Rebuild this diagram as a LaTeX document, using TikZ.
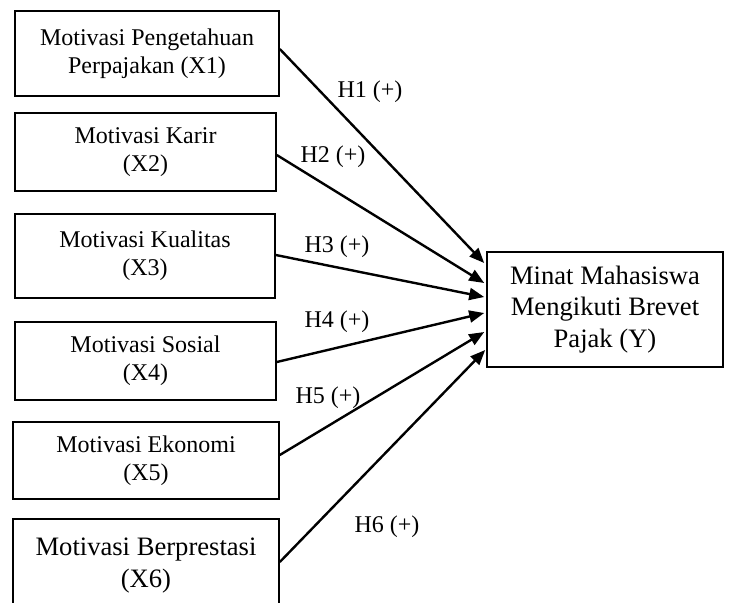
\documentclass[tikz,border=0pt]{standalone}
\usepackage{fontspec}
\setmainfont{Liberation Serif}
\usetikzlibrary{arrows.meta}
\begin{document}
\begin{tikzpicture}[x=0.5pt,y=-0.5pt,
  box/.style={draw,line width=0.8pt,align=center,inner sep=0pt,font=\fontsize{12}{14}\selectfont},
  bigtext/.style={font=\fontsize{13.3}{15.6}\selectfont},
  arr/.style={line width=1.2pt,-{Triangle[length=7.5pt,width=6pt]}},
  lab/.style={font=\fontsize{12}{14}\selectfont,inner sep=0pt}]
\useasboundingbox (0,0) rectangle (729,602);
\fill[white] (0,0) rectangle (729,602);

\node[box,minimum width=132pt,minimum height=42.5pt] (x1) at (147,53.5) {Motivasi Pengetahuan\\Perpajakan (X1)};
\node[box,minimum width=130.5pt,minimum height=39pt] (x2) at (145.5,152) {Motivasi Karir\\(X2)};
\node[box,minimum width=130pt,minimum height=42pt] (x3) at (145,256) {Motivasi Kualitas\\(X3)};
\node[box,minimum width=130.5pt,minimum height=39pt] (x4) at (145.5,361) {Motivasi Sosial\\(X4)};
\node[box,minimum width=133pt,minimum height=38.5pt] (x5) at (146,460.5) {Motivasi Ekonomi\\(X5)};
\node[box,font=\fontsize{13.3}{16}\selectfont,minimum width=133pt,minimum height=46.5pt] (x6) at (146,565.5) {Motivasi Berprestasi\\(X6)};
\node[box,bigtext,minimum width=118pt,minimum height=57.5pt] (y) at (605,309.5) {Minat Mahasiswa\\Mengikuti Brevet\\Pajak (Y)};

\draw[arr] ([yshift=2.25pt]x1.east) -- ([xshift=-1pt,yshift=23.25pt]y.west);
\draw[arr] ([yshift=-1.5pt]x2.east) -- ([xshift=-1pt,yshift=13.25pt]y.west);
\draw[arr] ([yshift=0.5pt]x3.east) -- ([xshift=-1pt,yshift=6.25pt]y.west);
\draw[arr] ([yshift=-0.5pt]x4.east) -- ([xshift=-1pt,yshift=-1.75pt]y.west);
\draw[arr] ([yshift=2.75pt]x5.east) -- ([xshift=-1pt,yshift=-11.25pt]y.west);
\draw[arr] ([yshift=1.75pt]x6.east) -- ([xshift=-0.5pt,yshift=-20.25pt]y.west);

\node[lab] (h1) at (370,92) {H1 (+)};
\node[lab] (h2) at (333,157) {H2 (+)};
\node[lab] (h3) at (337,247) {H3 (+)};
\node[lab] (h4) at (337,322) {H4 (+)};
\node[lab] (h5) at (328,398) {H5 (+)};
\node[lab] (h6) at (387,527) {H6 (+)};
\end{tikzpicture}
\end{document}
